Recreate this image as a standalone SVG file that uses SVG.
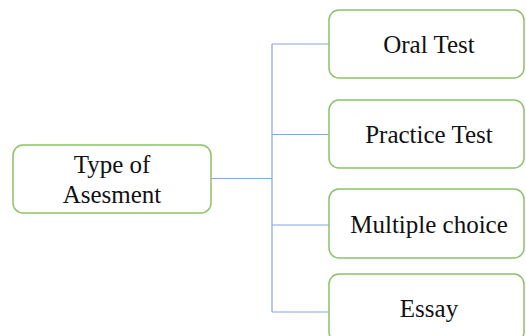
<svg xmlns="http://www.w3.org/2000/svg" width="526" height="336" viewBox="0 0 526 336">
<style>
.box{fill:#ffffff;stroke:#8dc26a;stroke-width:1.5}
.lbl{font-family:"Liberation Serif","DejaVu Serif",serif;font-size:25px;fill:#111111;text-anchor:middle}
.con{fill:none;stroke:#86a6dc;stroke-width:1.2}
</style>
<rect width="526" height="336" fill="#ffffff"/>
<g id="connectors">
<path class="con" d="M211 178.5H272M272 44V312M272 44H329M272 134.5H329M272 225H329M272 312H329"/>
</g>
<g id="root">
<rect class="box" x="13" y="145" width="198" height="68" rx="10"/>
<text class="lbl" x="112" y="173">Type of</text>
<text class="lbl" x="112" y="203">Asesment</text>
</g>
<g id="oral">
<rect class="box" x="329" y="10" width="195" height="68" rx="10"/>
<text class="lbl" x="429" y="53">Oral Test</text>
</g>
<g id="practice">
<rect class="box" x="329" y="100" width="195" height="68" rx="10"/>
<text class="lbl" x="429" y="143">Practice Test</text>
</g>
<g id="multiple">
<rect class="box" x="329" y="189" width="195" height="69" rx="10"/>
<text class="lbl" x="429" y="233">Multiple choice</text>
</g>
<g id="essay">
<rect class="box" x="329" y="274" width="195" height="68" rx="10"/>
<text class="lbl" x="429" y="317">Essay</text>
</g>
</svg>
